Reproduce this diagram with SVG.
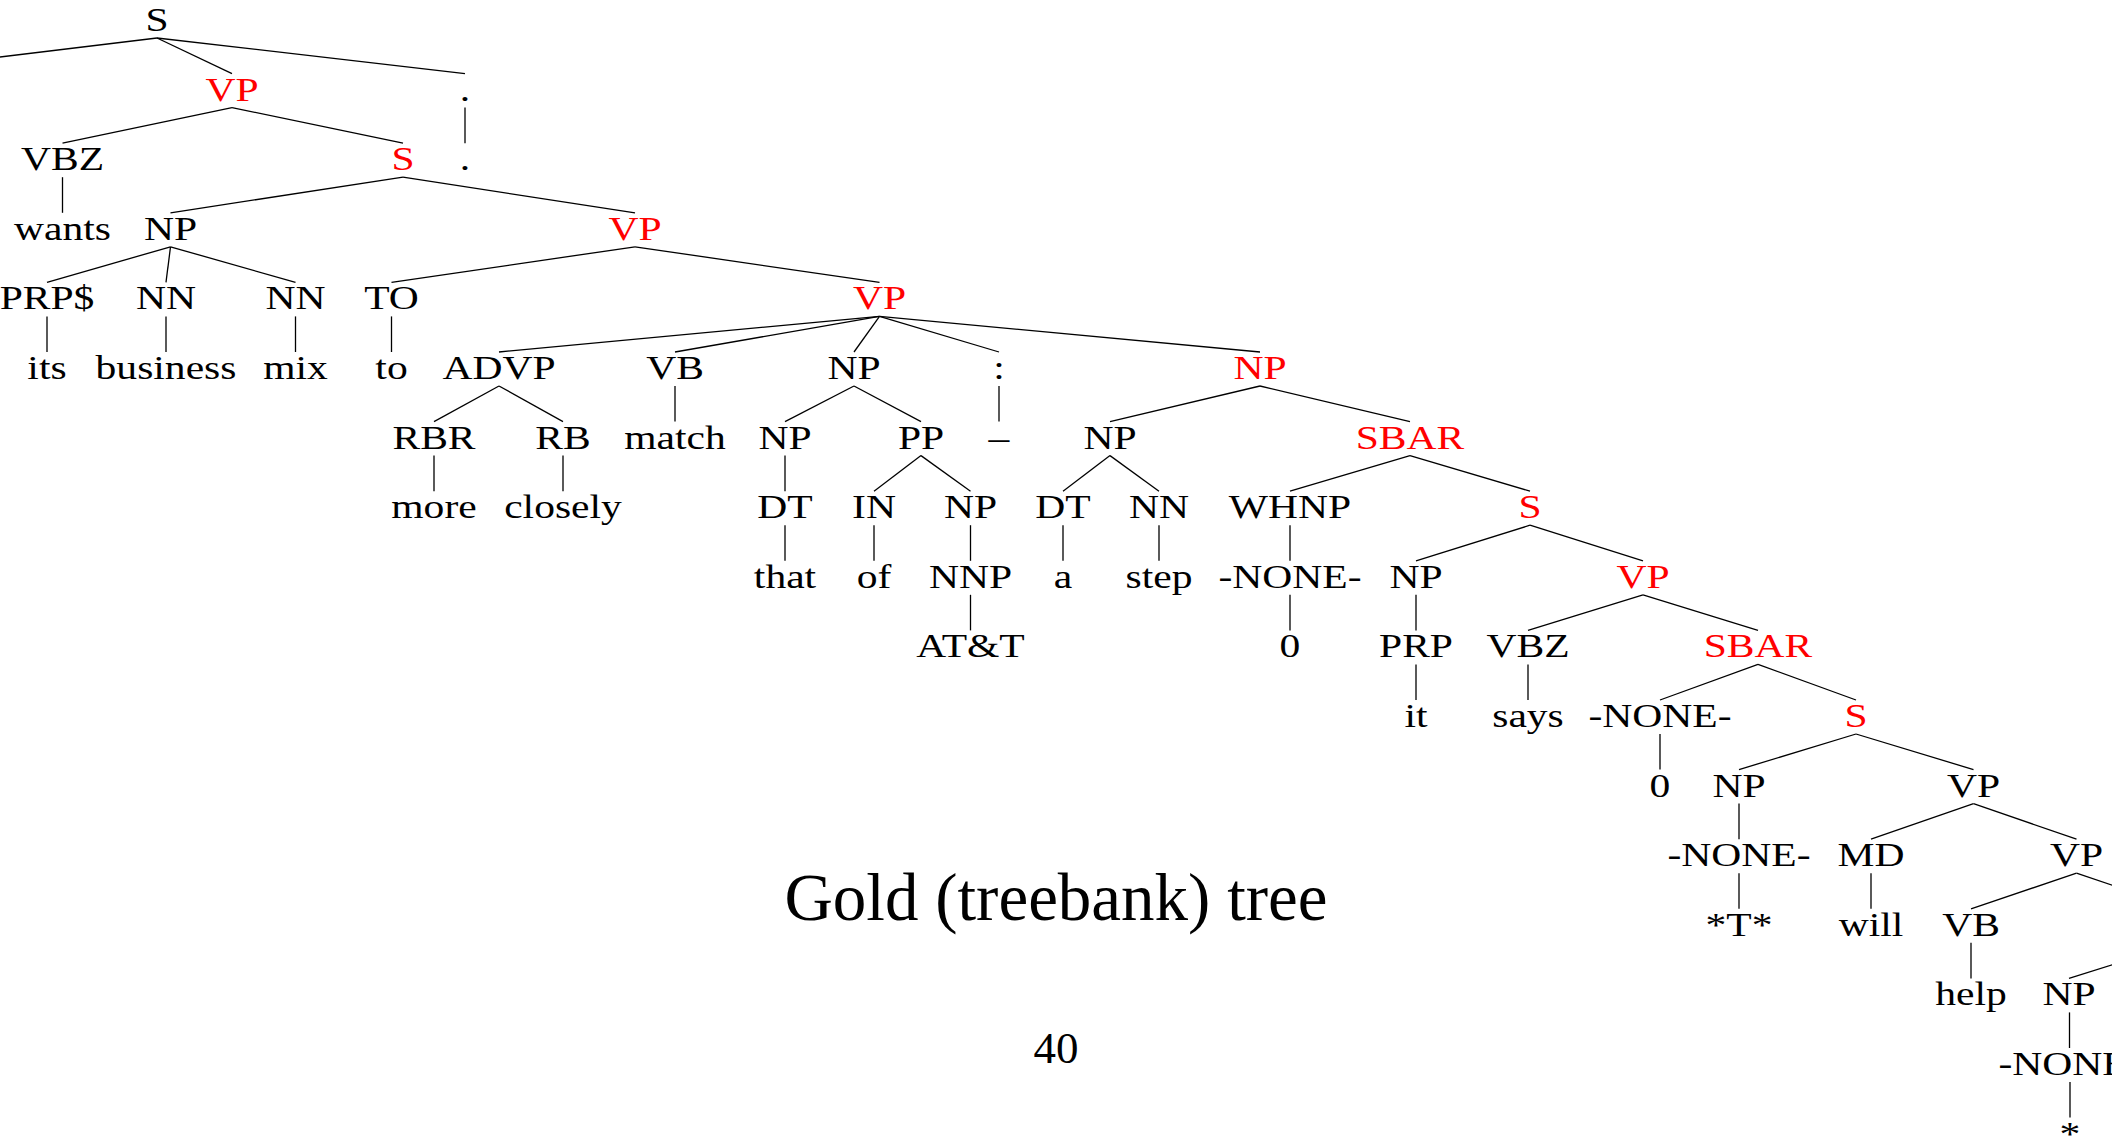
<svg xmlns="http://www.w3.org/2000/svg" width="2112" height="1143" viewBox="0 0 2112 1143">
  <style>
    .lbl { font-family: "Liberation Serif", "Times New Roman", serif; font-size: 33px; text-anchor: middle; fill: #000; }
    .hl { fill: #ff0000; }
    .edge { stroke: #000; stroke-width: 1.3; fill: none; }
    .caption { font-family: "Liberation Serif", "Times New Roman", serif; text-anchor: middle; fill: #000; }
  </style>
  <rect width="2112" height="1143" fill="#fff"/>

  <!-- tree edges: parent bottom (baseline+7) to child top (next baseline-27) -->
  <g id="edges" class="edge">
    <!-- row 0 -->
    <line x1="157" y1="38" x2="-137" y2="73.6"/>
    <line x1="157" y1="38" x2="232" y2="73.6"/>
    <line x1="157" y1="38" x2="465" y2="73.6"/>
    <!-- row 1 -->
    <line x1="232" y1="107.6" x2="62.5" y2="143.2"/>
    <line x1="232" y1="107.6" x2="403" y2="143.2"/>
    <line x1="465" y1="107.6" x2="465" y2="143.2"/>
    <!-- row 2 -->
    <line x1="62.5" y1="177.2" x2="62.5" y2="212.8"/>
    <line x1="403" y1="177.2" x2="170.5" y2="212.8"/>
    <line x1="403" y1="177.2" x2="635" y2="212.8"/>
    <!-- row 3 -->
    <line x1="170.5" y1="246.8" x2="47" y2="282.4"/>
    <line x1="170.5" y1="246.8" x2="166" y2="282.4"/>
    <line x1="170.5" y1="246.8" x2="295.5" y2="282.4"/>
    <line x1="635" y1="246.8" x2="391.5" y2="282.4"/>
    <line x1="635" y1="246.8" x2="879.5" y2="282.4"/>
    <!-- row 4 -->
    <line x1="47" y1="316.4" x2="47" y2="352"/>
    <line x1="166" y1="316.4" x2="166" y2="352"/>
    <line x1="295.5" y1="316.4" x2="295.5" y2="352"/>
    <line x1="391.5" y1="316.4" x2="391.5" y2="352"/>
    <line x1="879.5" y1="316.4" x2="499" y2="352"/>
    <line x1="879.5" y1="316.4" x2="675" y2="352"/>
    <line x1="879.5" y1="316.4" x2="854" y2="352"/>
    <line x1="879.5" y1="316.4" x2="999" y2="352"/>
    <line x1="879.5" y1="316.4" x2="1260" y2="352"/>
    <!-- row 5 -->
    <line x1="499" y1="386" x2="434" y2="421.6"/>
    <line x1="499" y1="386" x2="563" y2="421.6"/>
    <line x1="675" y1="386" x2="675" y2="421.6"/>
    <line x1="854" y1="386" x2="785" y2="421.6"/>
    <line x1="854" y1="386" x2="921" y2="421.6"/>
    <line x1="999" y1="386" x2="999" y2="421.6"/>
    <line x1="1260" y1="386" x2="1110" y2="421.6"/>
    <line x1="1260" y1="386" x2="1410" y2="421.6"/>
    <!-- row 6 -->
    <line x1="434" y1="455.6" x2="434" y2="491.2"/>
    <line x1="563" y1="455.6" x2="563" y2="491.2"/>
    <line x1="785" y1="455.6" x2="785" y2="491.2"/>
    <line x1="921" y1="455.6" x2="874" y2="491.2"/>
    <line x1="921" y1="455.6" x2="970.5" y2="491.2"/>
    <line x1="1110" y1="455.6" x2="1063" y2="491.2"/>
    <line x1="1110" y1="455.6" x2="1159" y2="491.2"/>
    <line x1="1410" y1="455.6" x2="1290" y2="491.2"/>
    <line x1="1410" y1="455.6" x2="1530" y2="491.2"/>
    <!-- row 7 -->
    <line x1="785" y1="525.2" x2="785" y2="560.8"/>
    <line x1="874" y1="525.2" x2="874" y2="560.8"/>
    <line x1="970.5" y1="525.2" x2="970.5" y2="560.8"/>
    <line x1="1063" y1="525.2" x2="1063" y2="560.8"/>
    <line x1="1159" y1="525.2" x2="1159" y2="560.8"/>
    <line x1="1290" y1="525.2" x2="1290" y2="560.8"/>
    <line x1="1530" y1="525.2" x2="1416" y2="560.8"/>
    <line x1="1530" y1="525.2" x2="1643" y2="560.8"/>
    <!-- row 8 -->
    <line x1="970.5" y1="594.8" x2="970.5" y2="630.4"/>
    <line x1="1290" y1="594.8" x2="1290" y2="630.4"/>
    <line x1="1416" y1="594.8" x2="1416" y2="630.4"/>
    <line x1="1643" y1="594.8" x2="1528" y2="630.4"/>
    <line x1="1643" y1="594.8" x2="1758" y2="630.4"/>
    <!-- row 9 -->
    <line x1="1416" y1="664.4" x2="1416" y2="700"/>
    <line x1="1528" y1="664.4" x2="1528" y2="700"/>
    <line x1="1758" y1="664.4" x2="1660" y2="700"/>
    <line x1="1758" y1="664.4" x2="1856" y2="700"/>
    <!-- row 10 -->
    <line x1="1660" y1="734" x2="1660" y2="769.6"/>
    <line x1="1856" y1="734" x2="1739" y2="769.6"/>
    <line x1="1856" y1="734" x2="1973.5" y2="769.6"/>
    <!-- row 11 -->
    <line x1="1739" y1="803.6" x2="1739" y2="839.2"/>
    <line x1="1973.5" y1="803.6" x2="1871" y2="839.2"/>
    <line x1="1973.5" y1="803.6" x2="2076.5" y2="839.2"/>
    <!-- row 12 -->
    <line x1="1739" y1="873.2" x2="1739" y2="908.8"/>
    <line x1="1871" y1="873.2" x2="1871" y2="908.8"/>
    <line x1="2076.5" y1="873.2" x2="1971" y2="908.8"/>
    <line x1="2076.5" y1="873.2" x2="2182" y2="908.8"/>
    <!-- row 13 -->
    <line x1="1971" y1="942.8" x2="1971" y2="978.4"/>
    <line x1="2182" y1="942.8" x2="2069" y2="978.4"/>
    <!-- row 14-15 -->
    <line x1="2069.5" y1="1012.4" x2="2069.5" y2="1048"/>
    <line x1="2070" y1="1082" x2="2070" y2="1117.6"/>
  </g>

  <!-- tree nodes -->
  <g id="n0"><text class="lbl" transform="translate(157,31) scale(1.26,1)">S</text></g>
  <g id="n1"><text class="lbl hl" transform="translate(232,100.6) scale(1.26,1)">VP</text></g>
  <g id="n2"><text class="lbl" transform="translate(465,100.6) scale(1.26,1)">.</text></g>
  <g id="n3"><text class="lbl" transform="translate(62.5,170.2) scale(1.26,1)">VBZ</text></g>
  <g id="n4"><text class="lbl hl" transform="translate(403,170.2) scale(1.26,1)">S</text></g>
  <g id="n5"><text class="lbl" transform="translate(465,170.2) scale(1.26,1)">.</text></g>
  <g id="n6"><text class="lbl" transform="translate(62.5,239.8) scale(1.26,1)">wants</text></g>
  <g id="n7"><text class="lbl" transform="translate(170.5,239.8) scale(1.26,1)">NP</text></g>
  <g id="n8"><text class="lbl hl" transform="translate(635,239.8) scale(1.26,1)">VP</text></g>
  <g id="n9"><text class="lbl" transform="translate(47,309.4) scale(1.26,1)">PRP$</text></g>
  <g id="n10"><text class="lbl" transform="translate(166,309.4) scale(1.26,1)">NN</text></g>
  <g id="n11"><text class="lbl" transform="translate(295.5,309.4) scale(1.26,1)">NN</text></g>
  <g id="n12"><text class="lbl" transform="translate(391.5,309.4) scale(1.26,1)">TO</text></g>
  <g id="n13"><text class="lbl hl" transform="translate(879.5,309.4) scale(1.26,1)">VP</text></g>
  <g id="n14"><text class="lbl" transform="translate(47,379) scale(1.26,1)">its</text></g>
  <g id="n15"><text class="lbl" transform="translate(166,379) scale(1.26,1)">business</text></g>
  <g id="n16"><text class="lbl" transform="translate(295.5,379) scale(1.26,1)">mix</text></g>
  <g id="n17"><text class="lbl" transform="translate(391.5,379) scale(1.26,1)">to</text></g>
  <g id="n18"><text class="lbl" transform="translate(499,379) scale(1.26,1)">ADVP</text></g>
  <g id="n19"><text class="lbl" transform="translate(675,379) scale(1.26,1)">VB</text></g>
  <g id="n20"><text class="lbl" transform="translate(854,379) scale(1.26,1)">NP</text></g>
  <g id="n21"><text class="lbl" transform="translate(999,379) scale(1.26,1)">:</text></g>
  <g id="n22"><text class="lbl hl" transform="translate(1260,379) scale(1.26,1)">NP</text></g>
  <g id="n23"><text class="lbl" transform="translate(434,448.6) scale(1.26,1)">RBR</text></g>
  <g id="n24"><text class="lbl" transform="translate(563,448.6) scale(1.26,1)">RB</text></g>
  <g id="n25"><text class="lbl" transform="translate(675,448.6) scale(1.26,1)">match</text></g>
  <g id="n26"><text class="lbl" transform="translate(785,448.6) scale(1.26,1)">NP</text></g>
  <g id="n27"><text class="lbl" transform="translate(921,448.6) scale(1.26,1)">PP</text></g>
  <g id="n28"><text class="lbl" transform="translate(999,448.6) scale(1.26,1)">–</text></g>
  <g id="n29"><text class="lbl" transform="translate(1110,448.6) scale(1.26,1)">NP</text></g>
  <g id="n30"><text class="lbl hl" transform="translate(1410,448.6) scale(1.26,1)">SBAR</text></g>
  <g id="n31"><text class="lbl" transform="translate(434,518.2) scale(1.26,1)">more</text></g>
  <g id="n32"><text class="lbl" transform="translate(563,518.2) scale(1.26,1)">closely</text></g>
  <g id="n33"><text class="lbl" transform="translate(785,518.2) scale(1.26,1)">DT</text></g>
  <g id="n34"><text class="lbl" transform="translate(874,518.2) scale(1.26,1)">IN</text></g>
  <g id="n35"><text class="lbl" transform="translate(970.5,518.2) scale(1.26,1)">NP</text></g>
  <g id="n36"><text class="lbl" transform="translate(1063,518.2) scale(1.26,1)">DT</text></g>
  <g id="n37"><text class="lbl" transform="translate(1159,518.2) scale(1.26,1)">NN</text></g>
  <g id="n38"><text class="lbl" transform="translate(1290,518.2) scale(1.26,1)">WHNP</text></g>
  <g id="n39"><text class="lbl hl" transform="translate(1530,518.2) scale(1.26,1)">S</text></g>
  <g id="n40"><text class="lbl" transform="translate(785,587.8) scale(1.26,1)">that</text></g>
  <g id="n41"><text class="lbl" transform="translate(874,587.8) scale(1.26,1)">of</text></g>
  <g id="n42"><text class="lbl" transform="translate(970.5,587.8) scale(1.26,1)">NNP</text></g>
  <g id="n43"><text class="lbl" transform="translate(1063,587.8) scale(1.26,1)">a</text></g>
  <g id="n44"><text class="lbl" transform="translate(1159,587.8) scale(1.26,1)">step</text></g>
  <g id="n45"><text class="lbl" transform="translate(1290,587.8) scale(1.26,1)">-NONE-</text></g>
  <g id="n46"><text class="lbl" transform="translate(1416,587.8) scale(1.26,1)">NP</text></g>
  <g id="n47"><text class="lbl hl" transform="translate(1643,587.8) scale(1.26,1)">VP</text></g>
  <g id="n48"><text class="lbl" transform="translate(970.5,657.4) scale(1.26,1)">AT&amp;T</text></g>
  <g id="n49"><text class="lbl" transform="translate(1290,657.4) scale(1.26,1)">0</text></g>
  <g id="n50"><text class="lbl" transform="translate(1416,657.4) scale(1.26,1)">PRP</text></g>
  <g id="n51"><text class="lbl" transform="translate(1528,657.4) scale(1.26,1)">VBZ</text></g>
  <g id="n52"><text class="lbl hl" transform="translate(1758,657.4) scale(1.26,1)">SBAR</text></g>
  <g id="n53"><text class="lbl" transform="translate(1416,727) scale(1.26,1)">it</text></g>
  <g id="n54"><text class="lbl" transform="translate(1528,727) scale(1.26,1)">says</text></g>
  <g id="n55"><text class="lbl" transform="translate(1660,727) scale(1.26,1)">-NONE-</text></g>
  <g id="n56"><text class="lbl hl" transform="translate(1856,727) scale(1.26,1)">S</text></g>
  <g id="n57"><text class="lbl" transform="translate(1660,796.6) scale(1.26,1)">0</text></g>
  <g id="n58"><text class="lbl" transform="translate(1739,796.6) scale(1.26,1)">NP</text></g>
  <g id="n59"><text class="lbl" transform="translate(1973.5,796.6) scale(1.26,1)">VP</text></g>
  <g id="n60"><text class="lbl" transform="translate(1739,866.2) scale(1.26,1)">-NONE-</text></g>
  <g id="n61"><text class="lbl" transform="translate(1871,866.2) scale(1.26,1)">MD</text></g>
  <g id="n62"><text class="lbl" transform="translate(2076.5,866.2) scale(1.26,1)">VP</text></g>
  <g id="n63"><text class="lbl" transform="translate(1739,935.8) scale(1.26,1)">*T*</text></g>
  <g id="n64"><text class="lbl" transform="translate(1871,935.8) scale(1.26,1)">will</text></g>
  <g id="n65"><text class="lbl" transform="translate(1971,935.8) scale(1.26,1)">VB</text></g>
  <g id="n66"><text class="lbl" transform="translate(1971,1005.4) scale(1.26,1)">help</text></g>
  <g id="n67"><text class="lbl" transform="translate(2069,1005.4) scale(1.26,1)">NP</text></g>
  <g id="n68"><text class="lbl" transform="translate(2070,1075) scale(1.26,1)">-NONE-</text></g>
  <g id="n69"><text class="lbl" transform="translate(2070,1144.6) scale(1.26,1)">*</text></g>

  <!-- caption and page number -->
  <g id="caption"><text class="caption" x="1056" y="920" font-size="67">Gold (treebank) tree</text></g>
  <g id="page-number"><text class="caption" x="1056" y="1063" font-size="45">40</text></g>
</svg>
